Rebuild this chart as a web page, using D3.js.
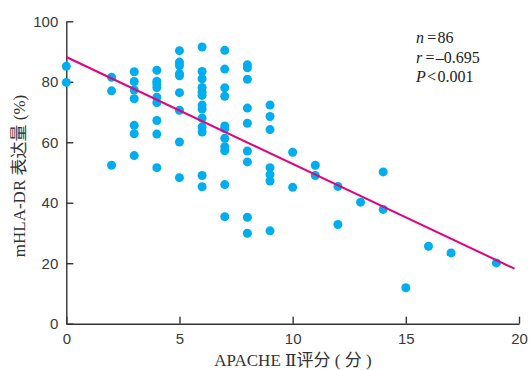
<!DOCTYPE html>
<html lang="zh">
  <head>
    <meta charset="UTF-8" />
    <title>APACHE II vs mHLA-DR</title>
    <style>
      body {
        margin: 0;
        background: #fff;
      }
      svg {
        display: block;
        font-family: "Liberation Serif", "DejaVu Serif", "Noto Sans CJK SC", serif;
      }
      .axis path,
      .axis line {
        stroke: #333;
        stroke-width: 1.4;
      }
      .axis text {
        font-size: 15px;
        fill: #3a3a3a;
      }
    </style>
  </head>
  <body>
    <svg width="529" height="370"></svg>
    <script src="https://d3js.org/d3.v7.min.js"></script>
    <script>
      // APACHE II score and mHLA-DR (%)
      const apache = [
        0, 0,
        2, 2, 2,
        3, 3, 3, 3, 3, 3, 3,
        4, 4, 4, 4, 4, 4, 4, 4, 4,
        5, 5, 5, 5, 5, 5, 5, 5, 5,
        6, 6, 6, 6, 6, 6, 6, 6, 6, 6, 6, 6, 6,
        7, 7, 7, 7, 7, 7, 7, 7, 7, 7, 7,
        8, 8, 8, 8, 8, 8, 8, 8, 8,
        9, 9, 9, 9, 9, 9, 9,
        10, 10, 11, 11, 12, 12, 13, 14, 14, 15, 16, 17, 19,
      ];
      const hladr = [
        85.1, 79.8,
        81.5, 77.0, 52.4,
        83.3, 80.1, 77.3, 74.4, 65.6, 62.8, 55.6,
        83.8, 80.2, 79.3, 78.1, 74.9, 73.1, 67.2, 62.7, 51.6,
        90.3, 86.5, 85.4, 82.7, 82.0, 76.4, 70.6, 60.1, 48.3,
        91.5, 83.4, 81.0, 78.1, 76.5, 75.5, 72.3, 71.0, 68.0, 65.1, 63.4, 49.0, 45.3,
        90.4, 84.2, 78.0, 75.2, 65.4, 64.5, 61.3, 58.5, 57.2, 46.0, 35.4,
        85.6, 84.6, 80.8, 71.3, 66.3, 57.1, 53.5, 35.2, 29.9,
        72.3, 68.5, 64.2, 51.6, 49.3, 47.2, 30.7,
        56.7, 45.1, 52.4, 49.0, 45.4, 32.8, 40.2, 50.2, 37.8, 11.9, 25.6, 23.4, 20.1,
      ];
      // fitted line end points (x, y)
      const fitX = [0, 19.8];
      const fitY = [88.2, 18.2];

      const xTicks = [0, 5, 10, 15, 20];
      const yTicks = [0, 20, 40, 60, 80, 100];
      const stats = [
        ["n", "\u2009=\u200a", "86"],
        ["r", "\u2009=\u200a", "\u20130.695"],
        ["P", "\u200a<\u200a", "0.001"],
      ];

      const svg = d3.select("svg");
      const x = d3.scaleLinear().domain([0, 20]).range([66.3, 519]);
      const y = d3.scaleLinear().domain([0, 100]).range([323.7, 21.3]);

      svg
        .append("g")
        .attr("class", "axis")
        .attr("transform", `translate(0,${y(0)})`)
        .call(
          d3.axisBottom(x).tickValues(xTicks).tickSizeInner(-7).tickSizeOuter(0).tickPadding(10)
        );

      svg
        .append("g")
        .attr("class", "axis")
        .attr("transform", `translate(${x(0)},0)`)
        .call(
          d3.axisLeft(y).tickValues(yTicks).tickSizeInner(-7).tickSizeOuter(0).tickPadding(8)
        );

      svg.selectAll(".axis .domain").attr("fill", "none");

      const pts = apache.map((a, i) => ({ a: a, h: hladr[i] }));

      svg
        .append("g")
        .selectAll("circle")
        .data(pts)
        .join("circle")
        .attr("cx", (d) => x(d.a))
        .attr("cy", (d) => y(d.h))
        .attr("r", 4.5)
        .attr("fill", "#00aeef");

      svg
        .append("line")
        .attr("x1", x(fitX[0]))
        .attr("y1", y(fitY[0]))
        .attr("x2", x(fitX[1]))
        .attr("y2", y(fitY[1]))
        .attr("stroke", "#e4007f")
        .attr("stroke-width", 2);

      // stats block
      const st = svg.append("g").attr("font-size", "16px").attr("fill", "#222");
      stats.forEach((s, i) => {
        const t = st.append("text").attr("x", 416).attr("y", 43 + i * 19.5);
        t.append("tspan").attr("font-style", "italic").text(s[0]);
        t.append("tspan").text(s[1]);
        t.append("tspan").text(s[2]);
      });

      svg
        .append("text")
        .attr("x", 293)
        .attr("y", 366)
        .attr("text-anchor", "middle")
        .attr("font-size", "17px")
        .attr("fill", "#333")
        .style("white-space", "pre")
        .text("APACHE \u2161评分 ( 分 )");

      svg
        .append("text")
        .attr("transform", "translate(25,176) rotate(-90)")
        .attr("text-anchor", "middle")
        .attr("font-size", "17px")
        .attr("fill", "#333")
        .text("mHLA-DR 表达量 (%)");
    </script>
  </body>
</html>
